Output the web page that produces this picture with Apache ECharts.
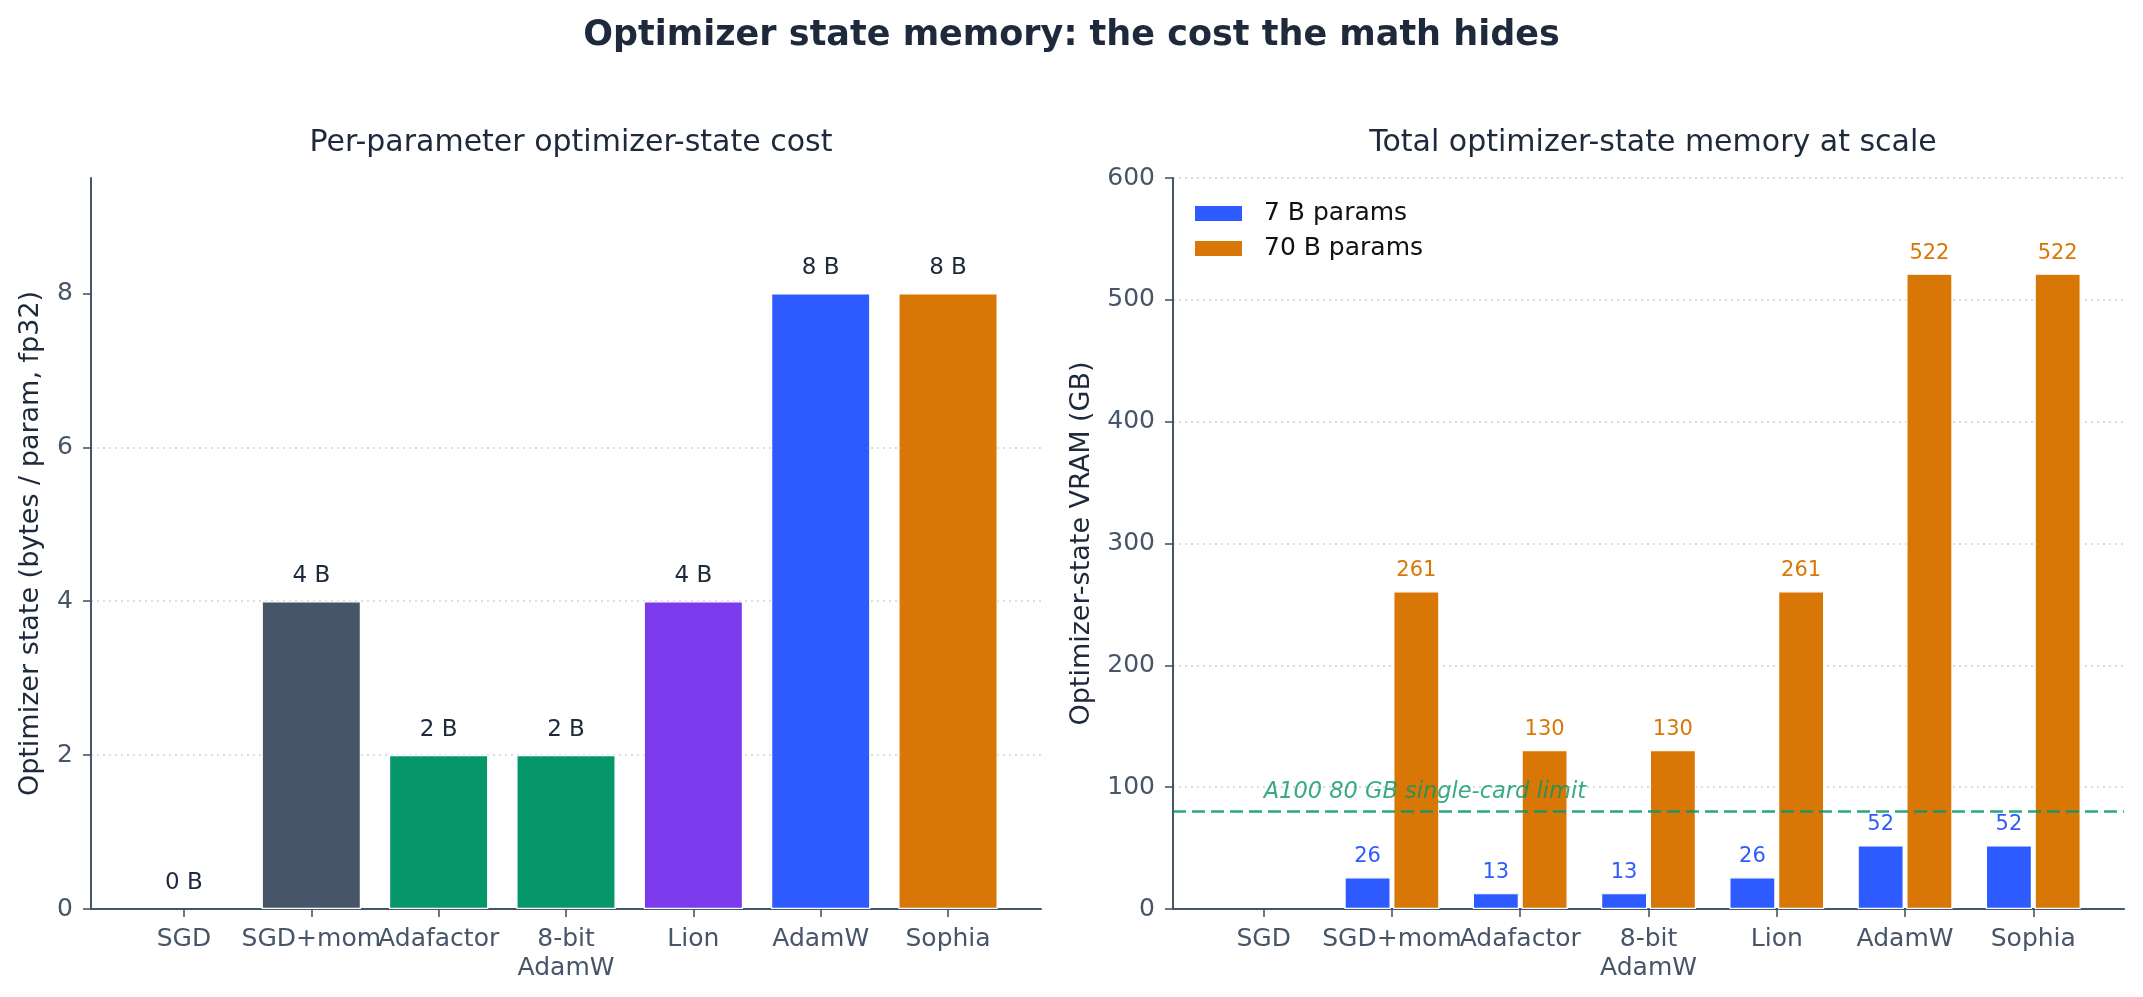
<!DOCTYPE html>
<html>
<head>
<meta charset="utf-8">
<script src="https://cdn.jsdelivr.net/npm/echarts@6/dist/echarts.min.js"></script>
<style>
  html, body { margin: 0; padding: 0; background: #ffffff; }
  #chart { width: 2143px; height: 997px; }
</style>
</head>
<body>
<div id="chart"></div>
<script>
// ---- data ----
const categories = ['SGD', 'SGD+mom', 'Adafactor', '8-bit\nAdamW', 'Lion', 'AdamW', 'Sophia'];
const perParamBytes = [0, 4, 2, 2, 4, 8, 8];
const barColors = ['#475569', '#475569', '#059669', '#059669', '#7c3aed', '#2e5bff', '#d97706'];
const vram7B = [0, 26.1, 13.0, 13.0, 26.1, 52.2, 52.2];
const vram70B = [0, 260.8, 130.4, 130.4, 260.8, 521.5, 521.5];
const leftYTicks = [0, 2, 4, 6, 8];
const limitGB = 80;
const limitLabel = 'A100 80 GB single-card limit';
const seriesNames = ['7 B params', '70 B params'];

const FONT = 'DejaVu Sans';
const INK = '#1e293b';
const AXIS = '#475569';
const catIdx = categories.map((_, i) => i);

const chart = echarts.init(document.getElementById('chart'), null, { renderer: 'canvas' });

const xAxisCommon = (min, max) => ({
  type: 'value', min: min, max: max,
  axisLine: { show: true, onZero: false, lineStyle: { color: AXIS, width: 2 } },
  axisTick: { show: true, length: 8, customValues: catIdx, lineStyle: { color: AXIS, width: 1.6 } },
  axisLabel: {
    customValues: catIdx, margin: 16,
    fontFamily: FONT, fontSize: 25, color: AXIS, lineHeight: 29,
    formatter: v => categories[Math.round(v)] || ''
  },
  splitLine: { show: false }
});

const gridLine = { type: [2, 4], color: '#d0d0d0', width: 1.5 };

const valueBorder = v => v > 0 ? { borderColor: '#ffffff', borderWidth: 1.2 } : { borderWidth: 0 };

const option = {
  backgroundColor: '#ffffff',
  animation: false,
  title: [
    { text: 'Optimizer state memory: the cost the math hides', left: 'center', top: 13,
      textStyle: { fontFamily: FONT, fontSize: 35, fontWeight: 'bold', color: INK } },
    { text: 'Per-parameter optimizer-state cost', left: 566, textAlign: 'center', top: 123,
      textStyle: { fontFamily: FONT, fontSize: 30, fontWeight: 'normal', color: INK } },
    { text: 'Total optimizer-state memory at scale', left: 1648, textAlign: 'center', top: 123,
      textStyle: { fontFamily: FONT, fontSize: 30, fontWeight: 'normal', color: INK } }
  ],
  legend: {
    orient: 'vertical', left: 1190, top: 196,
    itemWidth: 47, itemHeight: 15, itemGap: 10, icon: 'rect',
    data: seriesNames,
    textStyle: { fontFamily: FONT, fontSize: 25, color: '#111111', lineHeight: 25, padding: [0, 0, 0, 17] }
  },
  grid: [
    { left: 91, top: 178, width: 950, height: 731 },
    { left: 1173, top: 178, width: 951, height: 731 }
  ],
  xAxis: [
    Object.assign({ gridIndex: 0 }, xAxisCommon(-0.73, 6.73)),
    Object.assign({ gridIndex: 1 }, xAxisCommon(-0.707, 6.707))
  ],
  yAxis: [
    {
      gridIndex: 0, type: 'value', min: 0, max: 9.5, interval: 2,
      name: 'Optimizer state (bytes / param, fp32)', nameLocation: 'middle', nameGap: 47,
      nameTextStyle: { fontFamily: FONT, fontSize: 27, color: INK },
      axisLine: { show: true, onZero: false, lineStyle: { color: AXIS, width: 2 } },
      axisTick: { show: true, length: 8, customValues: leftYTicks, lineStyle: { color: AXIS, width: 1.6 } },
      axisLabel: { customValues: leftYTicks, margin: 18, fontFamily: FONT, fontSize: 25, color: AXIS },
      splitLine: { show: true, showMinLine: false, showMaxLine: false, lineStyle: gridLine }
    },
    {
      gridIndex: 1, type: 'value', min: 0, max: 600, interval: 100,
      name: 'Optimizer-state VRAM (GB)', nameLocation: 'middle', nameGap: 78,
      nameTextStyle: { fontFamily: FONT, fontSize: 27, color: INK },
      axisLine: { show: true, onZero: false, lineStyle: { color: AXIS, width: 2 } },
      axisTick: { show: true, length: 8, lineStyle: { color: AXIS, width: 1.6 } },
      axisLabel: { margin: 18, fontFamily: FONT, fontSize: 25, color: AXIS },
      splitLine: { show: true, showMinLine: false, lineStyle: gridLine }
    }
  ],
  series: [
    {
      type: 'bar', xAxisIndex: 0, yAxisIndex: 0, barWidth: '78%',
      data: perParamBytes.map((v, i) => ({ value: [i, v], itemStyle: Object.assign({ color: barColors[i] }, valueBorder(v)) })),
      label: {
        show: true, position: 'top', distance: 14,
        fontFamily: FONT, fontSize: 23, color: INK,
        formatter: p => p.value[1] + ' B'
      }
    },
    {
      name: seriesNames[0], type: 'bar', xAxisIndex: 1, yAxisIndex: 1,
      barWidth: '36%', barGap: '5.6%',
      itemStyle: { color: '#2e5bff' },
      data: vram7B.map((v, i) => ({ value: [i, v], itemStyle: valueBorder(v) })),
      label: {
        show: true, position: 'top', distance: 10,
        fontFamily: FONT, fontSize: 21, color: '#2e5bff',
        formatter: p => p.value[1] > 0 ? Math.round(p.value[1]).toString() : ''
      }
    },
    {
      name: seriesNames[1], type: 'bar', xAxisIndex: 1, yAxisIndex: 1,
      barWidth: '36%', barGap: '5.6%',
      itemStyle: { color: '#d97706' },
      data: vram70B.map((v, i) => ({ value: [i, v], itemStyle: valueBorder(v) })),
      label: {
        show: true, position: 'top', distance: 10,
        fontFamily: FONT, fontSize: 21, color: '#d97706',
        formatter: p => p.value[1] > 0 ? Math.round(p.value[1]).toString() : ''
      },
      markLine: {
        silent: true, symbol: 'none', z: 5,
        lineStyle: { color: '#059669', opacity: 0.85, type: [13, 6], width: 2.6 },
        label: { show: false },
        data: [{ yAxis: limitGB }]
      }
    },
    {
      type: 'scatter', xAxisIndex: 1, yAxisIndex: 1, symbolSize: 0, z: 6, silent: true,
      data: [[0, limitGB + 16]],
      label: {
        show: true, position: 'right', distance: 0,
        fontFamily: FONT, fontSize: 22.5, fontStyle: 'italic', color: '#059669',
        formatter: () => limitLabel
      }
    }
  ]
};

chart.setOption(option);
</script>
</body>
</html>
